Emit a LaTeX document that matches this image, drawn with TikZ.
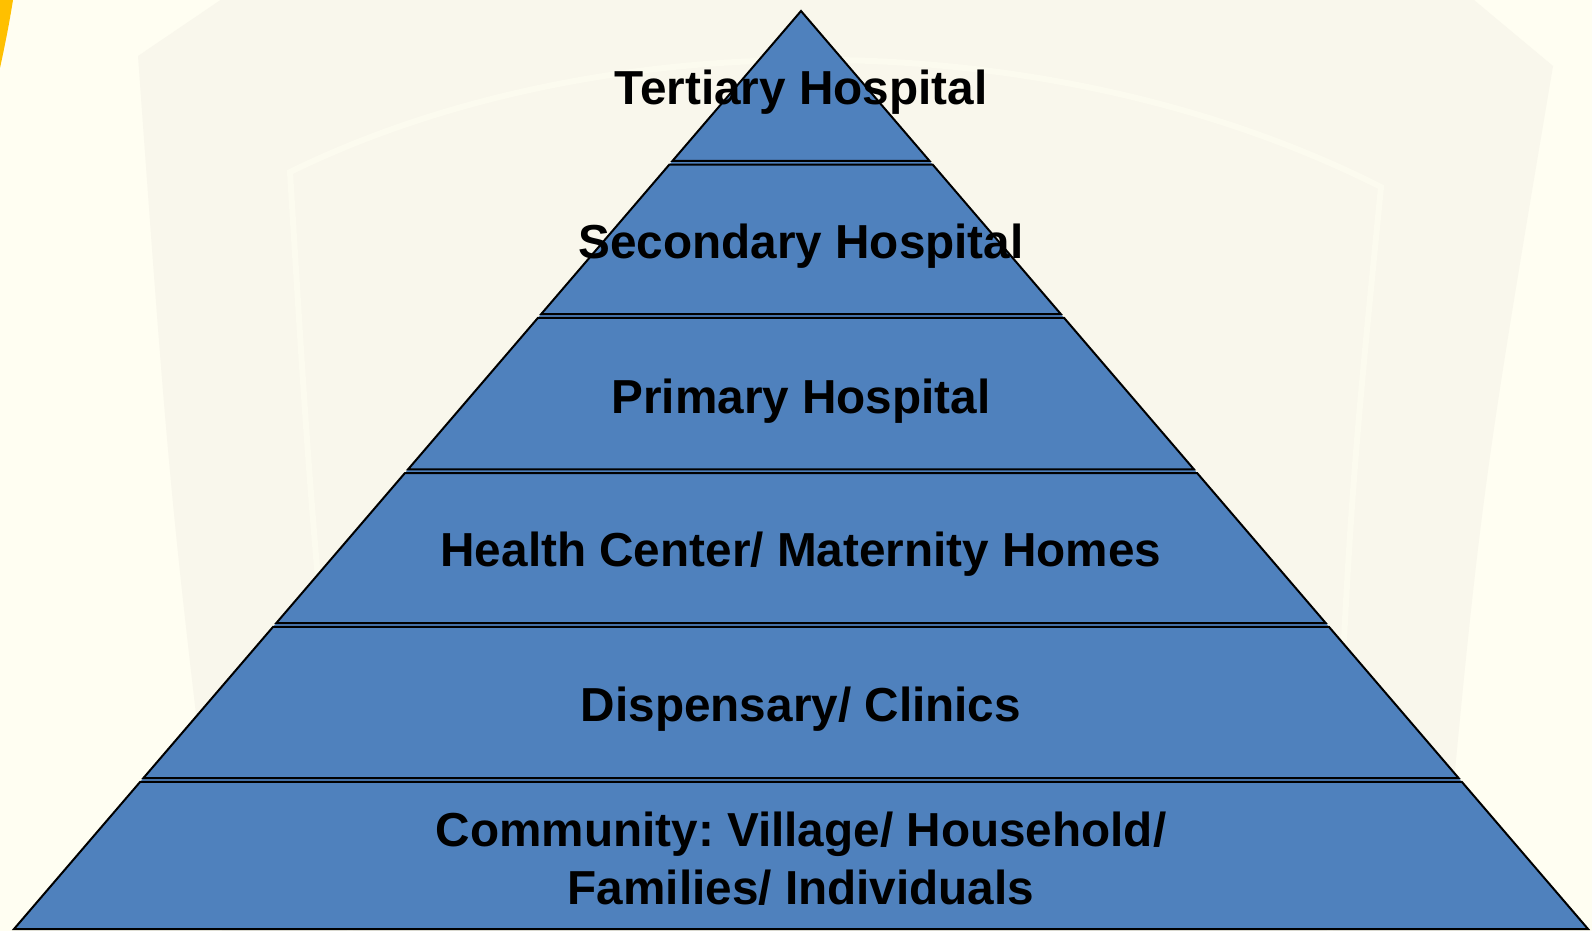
\documentclass[tikz,border=0pt]{standalone}
\usepackage{fontspec}
\setmainfont{Liberation Sans}
\usetikzlibrary{calc}

\definecolor{paper}{HTML}{FFFEF2}
\definecolor{crest}{HTML}{F9F7EC}
\definecolor{crestline}{HTML}{FCFBEF}
\definecolor{slab}{HTML}{4F81BD}
\definecolor{gold}{HTML}{FFC000}

\tikzset{
  layer/.style={fill=slab, draw=black, line width=2pt, line join=miter},
  tiername/.style={font=\bfseries\fontsize{47.7}{57.8}\selectfont, text=black,
                   anchor=base, inner sep=0pt, outer sep=0pt},
}

% horizontal extent of the pyramid at a given depth
\newcommand{\leftAt}[1]{801-(#1-11)/918*787}
\newcommand{\rightAt}[1]{801+(#1-11)/918*787}

\begin{document}
\frenchspacing
\begin{tikzpicture}[x=1pt, y=-1pt]
  % page
  \fill[paper] (0,0) rectangle (1592,931);
  \useasboundingbox (0,0) rectangle (1592,931);

  % faint crest in the background
  \fill[crest] (222,931) .. controls (170,500) .. (138,56)
               -- (250,-20) -- (1450,-20) -- (1553,66)
               .. controls (1480,500) .. (1440,931) -- cycle;
  \draw[crestline, line width=6pt]
       (350,931) .. controls (310,500) .. (290,172)
       .. controls (600,20) and (1050,20) .. (1381,187)
       .. controls (1350,500) .. (1330,931);

  % gold swoosh at the corner
  \fill[gold] (0,0) -- (13,0) .. controls (9,25) and (5,45) .. (0,68) -- cycle;

  % pyramid body
  \coordinate (apex) at (801,11);
  \coordinate (baseL) at (14,929);
  \coordinate (baseR) at (1588,929);
  \fill[slab] (apex) -- (baseL) -- (baseR) -- cycle;

  % top tier (triangle)
  \pgfmathsetmacro{\bl}{\leftAt{160.8}}
  \pgfmathsetmacro{\br}{\rightAt{160.8}}
  \draw[layer] (apex) -- (\bl,160.8) -- (\br,160.8) -- cycle;

  % lower tiers (trapezoids)
  \foreach \t/\b in {164.6/314.2, 317.8/469.4, 473.0/623.2, 626.8/778.2, 781.8/929}{
    \pgfmathsetmacro{\tl}{\leftAt{\t}}
    \pgfmathsetmacro{\tr}{\rightAt{\t}}
    \pgfmathsetmacro{\bl}{\leftAt{\b}}
    \pgfmathsetmacro{\br}{\rightAt{\b}}
    \draw[layer] (\tl,\t) -- (\tr,\t) -- (\br,\b) -- (\bl,\b) -- cycle;
  }

  % tier names
  \node[tiername] (tertiary)  at (801,104.5) {Tertiary Hospital};
  \node[tiername] (secondary) at (801,258.5) {Secondary Hospital};
  \node[tiername] (primary)   at (801,413)   {Primary Hospital};
  \node[tiername] (health)    at (801,566.5) {Health Center/ Maternity Homes};
  \node[tiername] (dispens)   at (801,721)   {Dispensary/ Clinics};
  \node[tiername] (commA)     at (801,846)   {Community: Village/ Household/};
  \node[tiername] (commB)     at (801,904)   {Families/ Individuals};
\end{tikzpicture}
\end{document}
